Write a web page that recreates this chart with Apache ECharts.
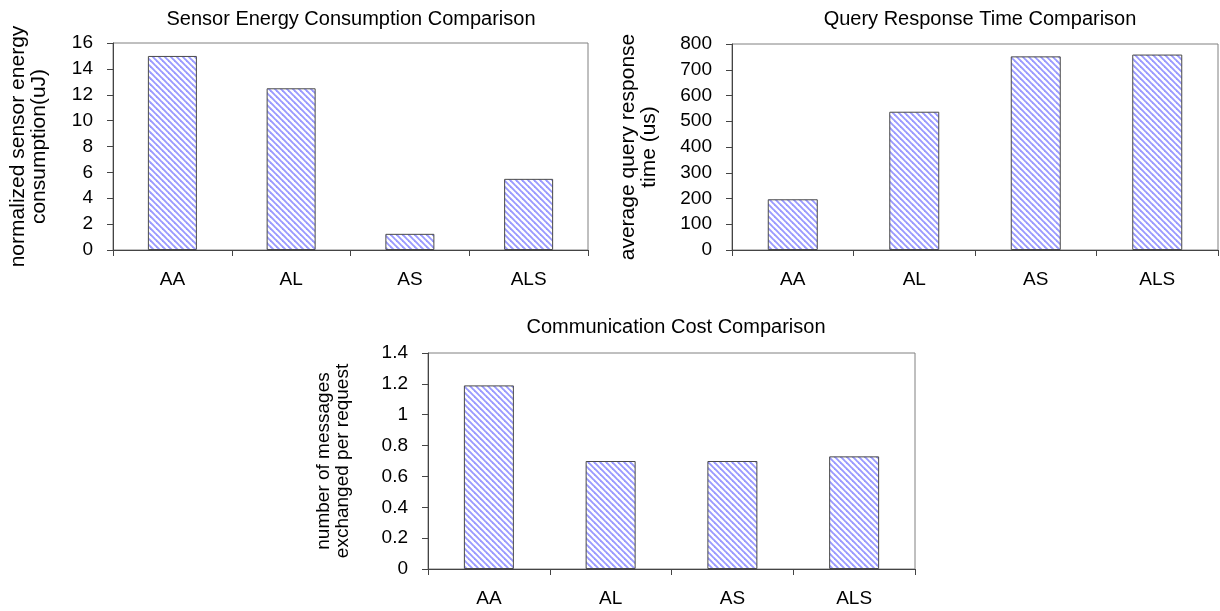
<!DOCTYPE html>
<html>
<head>
<meta charset="utf-8">
<script src="https://cdn.jsdelivr.net/npm/echarts@6/dist/echarts.min.js"></script>
<style>
html,body{margin:0;padding:0;background:#fff;}
#main{width:1220px;height:611px;}
</style>
</head>
<body>
<div id="main"></div>
<script>
// ---- data ----
const categories = ['AA', 'AL', 'AS', 'ALS'];
const energyValues = [15, 12.5, 1.25, 5.5];
const responseTimeValues = [197, 537, 752, 759];
const commCostValues = [1.19, 0.70, 0.70, 0.73];

const titles = ['Sensor Energy Consumption Comparison', 'Query Response Time Comparison', 'Communication Cost Comparison'];
const yNames = ['normalized sensor energy\nconsumption(uJ)', 'average query response\ntime (us)', 'number of messages\nexchanged per request'];

// ---- hatch pattern ----
function makePattern() {
  const c = document.createElement('canvas');
  c.width = 6; c.height = 6;
  const ctx = c.getContext('2d');
  ctx.fillStyle = '#ffffff';
  ctx.fillRect(0, 0, 6, 6);
  ctx.strokeStyle = '#9a9aff';
  ctx.lineWidth = 1.9;
  for (const o of [-6, 0, 6]) {
    ctx.beginPath();
    ctx.moveTo(o - 1, -1);
    ctx.lineTo(o + 7, 7);
    ctx.stroke();
  }
  return c;
}
const pattern = makePattern();

const FONT = 'Liberation Sans, Arial, sans-serif';
const grids = [
  { left: 113, top: 43, width: 475, height: 207, show: true, borderColor: '#808080', borderWidth: 1 },
  { left: 732, top: 44, width: 486, height: 206, show: true, borderColor: '#808080', borderWidth: 1 },
  { left: 428, top: 353, width: 487, height: 216, show: true, borderColor: '#808080', borderWidth: 1 }
];
const yCfg = [
  { min: 0, max: 16, interval: 2, gap: 63, nameSize: 21 },
  { min: 0, max: 800, interval: 100, gap: 72, nameSize: 21 },
  { min: 0, max: 1.4, interval: 0.2, gap: 76, nameSize: 19 }
];
const seriesData = [energyValues, responseTimeValues, commCostValues];
const barWidths = [49, 50, 50];

const option = {
  backgroundColor: '#fff',
  animation: false,
  title: [
    { text: titles[0], left: 346, top: 4, textAlign: 'center' },
    { text: titles[1], left: 975, top: 4, textAlign: 'center' },
    { text: titles[2], left: 671, top: 312, textAlign: 'center' }
  ].map(t => Object.assign(t, { textStyle: { fontFamily: FONT, fontSize: 20, fontWeight: 'normal', color: '#000' } })),
  grid: grids,
  xAxis: grids.map((g, i) => ({
    type: 'category',
    gridIndex: i,
    data: categories,
    axisLine: { lineStyle: { color: '#444', width: 1 } },
    axisTick: { show: true, length: 6, lineStyle: { color: '#444' } },
    axisLabel: { fontFamily: FONT, fontSize: 19, color: '#000', margin: 20 },
    splitLine: { show: false }
  })),
  yAxis: grids.map((g, i) => ({
    type: 'value',
    gridIndex: i,
    min: yCfg[i].min,
    max: yCfg[i].max,
    interval: yCfg[i].interval,
    name: yNames[i],
    nameLocation: 'middle',
    nameGap: yCfg[i].gap,
    nameRotate: 90,
    nameTextStyle: { fontFamily: FONT, fontSize: yCfg[i].nameSize, color: '#000', lineHeight: yCfg[i].nameSize },
    axisLine: { show: true, lineStyle: { color: '#444', width: 1 } },
    axisTick: { show: true, length: 6, lineStyle: { color: '#444' } },
    axisLabel: { fontFamily: FONT, fontSize: 19, color: '#000', margin: 20 },
    splitLine: { show: false }
  })),
  series: seriesData.map((d, i) => ({
    type: 'bar',
    xAxisIndex: i,
    yAxisIndex: i,
    data: d,
    barWidth: barWidths[i],
    itemStyle: {
      color: { image: pattern, repeat: 'repeat' },
      borderColor: '#4a4a4a',
      borderWidth: 1
    }
  }))
};

const chart = echarts.init(document.getElementById('main'), null, { renderer: 'canvas' });
chart.setOption(option);
</script>
</body>
</html>
